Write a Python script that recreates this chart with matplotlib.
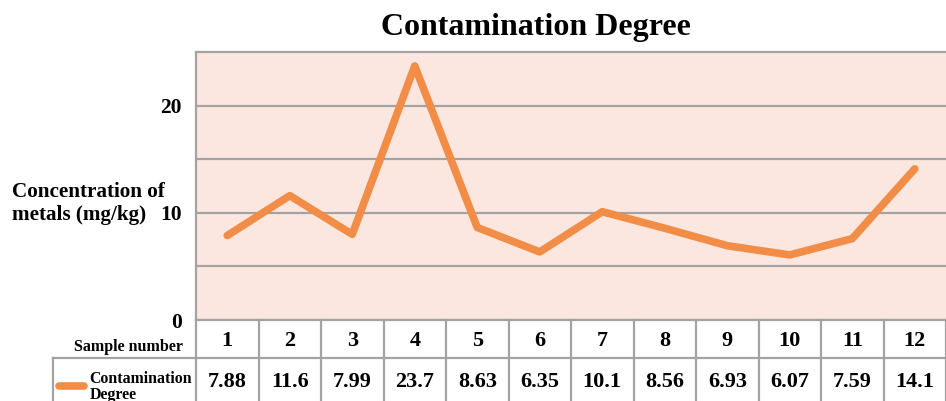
import matplotlib
matplotlib.use('Agg')
import matplotlib.pyplot as plt
from matplotlib.lines import Line2D

plt.rcParams['font.family'] = ['Liberation Serif', 'DejaVu Serif']
plt.rcParams['font.weight'] = 'bold'

samples = ['1', '2', '3', '4', '5', '6', '7', '8', '9', '10', '11', '12']
degree = [7.88, 11.6, 7.99, 23.7, 8.63, 6.35, 10.1, 8.56, 6.93, 6.07, 7.59, 14.1]
value_labels = ['7.88', '11.6', '7.99', '23.7', '8.63', '6.35', '10.1', '8.56', '6.93', '6.07', '7.59', '14.1']

line_color = '#f28d47'
grid_color = '#a3a3a3'

fig = plt.figure(figsize=(9.46, 4.01), dpi=100)
ax = fig.add_axes([196 / 946, 1 - 320 / 401, 1 - 196 / 946, 268 / 401])
ax.set_facecolor('#fbe7df')

x = list(range(1, len(degree) + 1))
ax.plot(x, degree, color=line_color, linewidth=5.5, solid_capstyle='round',
        solid_joinstyle='round', zorder=3)

ax.set_xlim(0.5, 12.5)
ax.set_ylim(0, 25)
ax.set_yticks([0, 10, 20])
ax.set_yticks([5, 15], minor=True)
ax.set_xticks([])
ax.yaxis.grid(True, which='both', color=grid_color, linewidth=1.6)
ax.set_axisbelow(True)
ax.tick_params(axis='y', which='both', length=0, labelsize=15.5, pad=10)
for lab in ax.get_yticklabels():
    lab.set_fontweight('bold')
for side in ['top', 'left']:
    ax.spines[side].set_color(grid_color)
    ax.spines[side].set_linewidth(1.6)
ax.spines['right'].set_visible(False)
ax.spines['bottom'].set_visible(False)

fig.text(536 / 946, 1 - 27 / 401, 'Contamination Degree', ha='center', va='center',
         fontsize=23, fontweight='bold')
# y label as two lines, as in the source
fig.text(12 / 946, 1 - 192 / 401, 'Concentration of', ha='left', va='center',
         fontsize=15.2, fontweight='bold')
fig.text(12 / 946, 1 - 215 / 401, 'metals (mg/kg)', ha='left', va='center',
         fontsize=15.2, fontweight='bold')

# data table under the plot
tr = ax.get_xaxis_transform()
h1 = 38 / 268
h2 = 82 / 268
left_cell = 0.5 - (196 - 53) / 62.5
for xe in [i + 0.5 for i in range(0, 13)]:
    ax.add_line(Line2D([xe, xe], [0, -h2], transform=tr, color=grid_color,
                       linewidth=1.6, clip_on=False))
ax.add_line(Line2D([0.5, 12.5], [0, 0], transform=tr, color=grid_color,
                   linewidth=1.6, clip_on=False))
ax.add_line(Line2D([left_cell, 12.5], [-h1, -h1], transform=tr, color=grid_color,
                   linewidth=1.6, clip_on=False))
ax.add_line(Line2D([left_cell, left_cell], [-h1, -h2], transform=tr, color=grid_color,
                   linewidth=1.6, clip_on=False))

for xi, s, v in zip(x, samples, value_labels):
    ax.text(xi, -h1 / 2 - 0.008, s, transform=tr, ha='center', va='center',
            fontsize=16, fontweight='bold')
    ax.text(xi, -(h1 + h2) / 2 - 0.008, v, transform=tr, ha='center', va='center',
            fontsize=16, fontweight='bold')

ax.text(0.3, -h1 / 2 - 0.03, 'Sample number', transform=tr, ha='right', va='center',
        fontsize=11.5, fontweight='bold')
ax.add_line(Line2D([left_cell + 0.1, left_cell + 0.5], [-(h1 + h2) / 2 - 0.022] * 2,
                   transform=tr, color=line_color, linewidth=5.5,
                   solid_capstyle='round', clip_on=False))
ax.text(left_cell + 0.58, -(h1 + h2) / 2 - 0.025, 'Contamination\nDegree', transform=tr,
        ha='left', va='center', fontsize=11.4, fontweight='bold', linespacing=1.0)

fig.savefig('out.png', dpi=100)
